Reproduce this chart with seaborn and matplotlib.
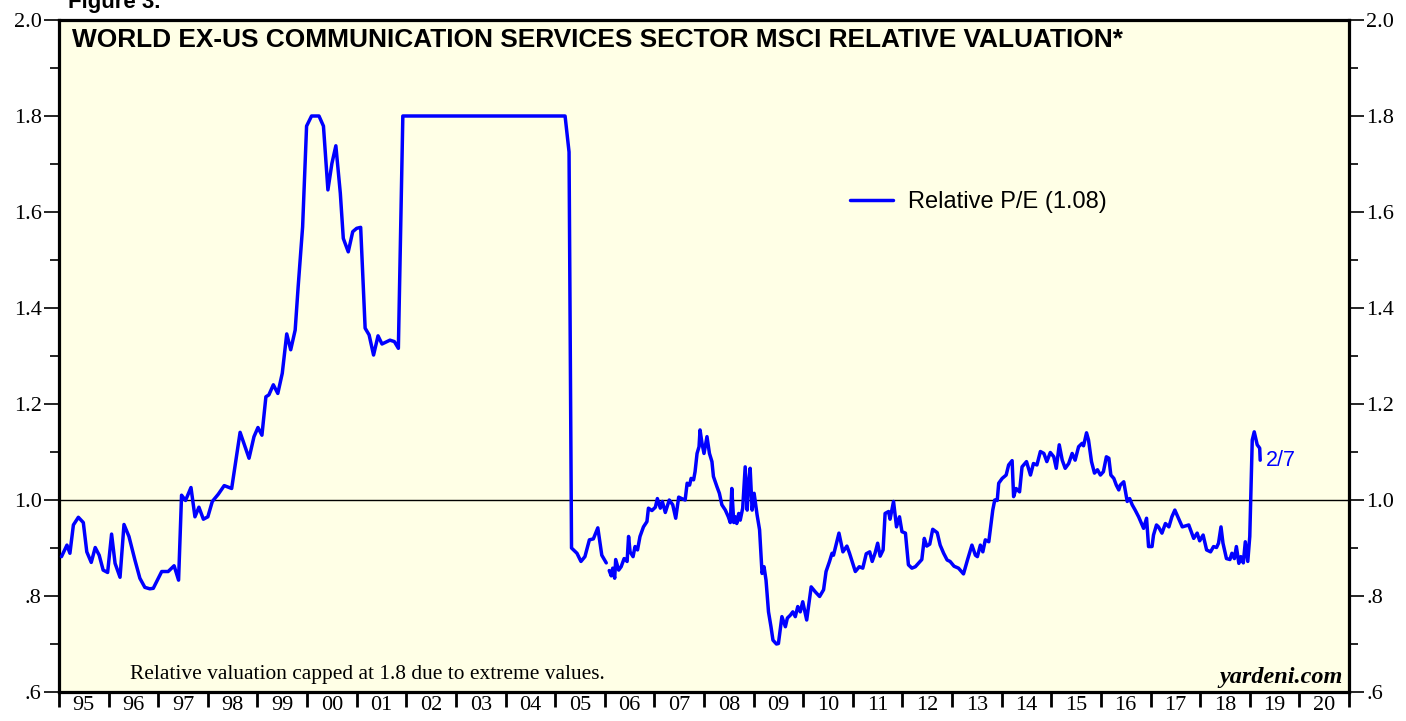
import numpy as np
import pandas as pd
import matplotlib
matplotlib.use("Agg")
import matplotlib.pyplot as plt
from matplotlib.lines import Line2D
from matplotlib.ticker import FixedLocator, FixedFormatter
import seaborn as sns

# ---------------- data ----------------
# segment 1: monthly series 1995 - early 2006 (values capped at 1.8)
dates_1 = [1995.05, 1995.16, 1995.22, 1995.29, 1995.39, 1995.49, 1995.56, 1995.65, 1995.73, 1995.81,
           1995.89, 1995.98, 1996.06, 1996.13, 1996.23, 1996.31, 1996.41, 1996.53, 1996.63, 1996.73,
           1996.83, 1996.90, 1997.07, 1997.20, 1997.32, 1997.41, 1997.47, 1997.55, 1997.66, 1997.74,
           1997.82, 1997.91, 1998.00, 1998.09, 1998.21, 1998.33, 1998.48, 1998.65, 1998.83, 1998.93,
           1999.01, 1999.09, 1999.17, 1999.23, 1999.32, 1999.41, 1999.50, 1999.59, 1999.67, 1999.76,
           1999.82, 1999.91, 1999.99, 2000.09, 2000.24, 2000.33, 2000.42, 2000.50, 2000.58, 2000.67,
           2000.73, 2000.83, 2000.92, 2001.00, 2001.08, 2001.17, 2001.25, 2001.34, 2001.43, 2001.51,
           2001.67, 2001.76, 2001.84, 2001.93, 2005.20, 2005.28, 2005.33, 2005.44, 2005.52, 2005.60,
           2005.69, 2005.77, 2005.86, 2005.94, 2006.03]
values_1 = [0.882, 0.906, 0.889, 0.948, 0.964, 0.953, 0.892, 0.870, 0.901, 0.885,
            0.854, 0.849, 0.929, 0.868, 0.839, 0.949, 0.924, 0.875, 0.837, 0.818,
            0.815, 0.816, 0.851, 0.851, 0.863, 0.833, 1.010, 0.999, 1.026, 0.965,
            0.985, 0.960, 0.965, 0.997, 1.012, 1.030, 1.024, 1.141, 1.087, 1.132,
            1.151, 1.135, 1.215, 1.219, 1.240, 1.222, 1.264, 1.346, 1.313, 1.354,
            1.444, 1.569, 1.779, 1.800, 1.800, 1.779, 1.646, 1.701, 1.738, 1.639,
            1.545, 1.517, 1.559, 1.566, 1.568, 1.358, 1.344, 1.302, 1.342, 1.325,
            1.333, 1.330, 1.316, 1.800, 1.800, 1.725, 0.900, 0.889, 0.872, 0.882,
            0.917, 0.919, 0.942, 0.885, 0.869]

# segment 2: weekly series 2006 - Feb 2019
dates_2 = [2006.09, 2006.13, 2006.16, 2006.20, 2006.22, 2006.28, 2006.33, 2006.39, 2006.45, 2006.48,
           2006.51, 2006.57, 2006.61, 2006.66, 2006.71, 2006.78, 2006.85, 2006.88, 2006.95, 2007.02,
           2007.06, 2007.12, 2007.16, 2007.22, 2007.30, 2007.37, 2007.43, 2007.49, 2007.55, 2007.62,
           2007.66, 2007.71, 2007.74, 2007.79, 2007.82, 2007.86, 2007.90, 2007.92, 2007.96, 2008.00,
           2008.06, 2008.11, 2008.16, 2008.19, 2008.26, 2008.31, 2008.36, 2008.43, 2008.49, 2008.53,
           2008.56, 2008.60, 2008.63, 2008.66, 2008.70, 2008.73, 2008.78, 2008.83, 2008.87, 2008.90,
           2008.93, 2008.97, 2009.01, 2009.07, 2009.12, 2009.17, 2009.21, 2009.25, 2009.30, 2009.35,
           2009.39, 2009.46, 2009.50, 2009.57, 2009.64, 2009.68, 2009.74, 2009.79, 2009.84, 2009.89,
           2009.94, 2009.99, 2010.07, 2010.16, 2010.24, 2010.33, 2010.41, 2010.46, 2010.53, 2010.58,
           2010.61, 2010.67, 2010.72, 2010.80, 2010.88, 2010.93, 2011.05, 2011.13, 2011.20, 2011.27,
           2011.34, 2011.39, 2011.45, 2011.50, 2011.55, 2011.61, 2011.65, 2011.72, 2011.75, 2011.82,
           2011.88, 2011.94, 2011.99, 2012.06, 2012.12, 2012.19, 2012.26, 2012.33, 2012.39, 2012.44,
           2012.49, 2012.55, 2012.61, 2012.70, 2012.76, 2012.83, 2012.90, 2012.96, 2013.04, 2013.13,
           2013.23, 2013.31, 2013.40, 2013.47, 2013.51, 2013.57, 2013.62, 2013.67, 2013.74, 2013.77,
           2013.82, 2013.86, 2013.91, 2013.94, 2014.01, 2014.09, 2014.14, 2014.21, 2014.24, 2014.29,
           2014.36, 2014.41, 2014.50, 2014.58, 2014.64, 2014.71, 2014.78, 2014.85, 2014.91, 2014.98,
           2015.05, 2015.10, 2015.16, 2015.22, 2015.28, 2015.35, 2015.42, 2015.48, 2015.55, 2015.62,
           2015.65, 2015.71, 2015.75, 2015.81, 2015.87, 2015.93, 2015.99, 2016.05, 2016.11, 2016.16,
           2016.20, 2016.26, 2016.31, 2016.36, 2016.39, 2016.46, 2016.53, 2016.58, 2016.63, 2016.69,
           2016.76, 2016.83, 2016.86, 2016.92, 2016.96, 2017.03, 2017.06, 2017.12, 2017.16, 2017.23,
           2017.30, 2017.37, 2017.43, 2017.49, 2017.55, 2017.64, 2017.77, 2017.87, 2017.94, 2017.99,
           2018.06, 2018.13, 2018.21, 2018.27, 2018.33, 2018.37, 2018.42, 2018.46, 2018.53, 2018.60,
           2018.64, 2018.69, 2018.73, 2018.78, 2018.82, 2018.87, 2018.91, 2018.96, 2019.00, 2019.03,
           2019.05, 2019.09, 2019.15, 2019.20, 2019.21]
values_2 = [0.853, 0.842, 0.858, 0.837, 0.876, 0.854, 0.861, 0.878, 0.872, 0.924,
            0.892, 0.882, 0.903, 0.896, 0.924, 0.944, 0.955, 0.983, 0.978, 0.985,
            1.003, 0.983, 0.997, 0.974, 1.000, 0.990, 0.962, 1.006, 1.003, 1.000,
            1.035, 1.031, 1.045, 1.042, 1.059, 1.097, 1.111, 1.146, 1.118, 1.097,
            1.132, 1.097, 1.080, 1.049, 1.028, 1.014, 0.990, 0.979, 0.965, 0.953,
            1.024, 0.953, 0.965, 0.951, 0.972, 0.958, 0.983, 1.069, 0.979, 1.035,
            1.066, 0.979, 1.014, 0.969, 0.938, 0.847, 0.861, 0.833, 0.767, 0.736,
            0.708, 0.700, 0.701, 0.757, 0.736, 0.754, 0.760, 0.767, 0.757, 0.778,
            0.767, 0.788, 0.750, 0.819, 0.809, 0.799, 0.813, 0.851, 0.872, 0.889,
            0.885, 0.910, 0.931, 0.892, 0.904, 0.890, 0.851, 0.861, 0.858, 0.888,
            0.892, 0.872, 0.890, 0.910, 0.883, 0.896, 0.972, 0.976, 0.960, 0.997,
            0.944, 0.965, 0.934, 0.931, 0.865, 0.858, 0.861, 0.869, 0.876, 0.920,
            0.904, 0.908, 0.939, 0.932, 0.906, 0.889, 0.875, 0.872, 0.862, 0.858,
            0.846, 0.875, 0.906, 0.885, 0.882, 0.906, 0.892, 0.917, 0.913, 0.938,
            0.979, 1.000, 0.999, 1.035, 1.045, 1.052, 1.073, 1.082, 1.007, 1.024,
            1.017, 1.069, 1.080, 1.052, 1.076, 1.073, 1.101, 1.097, 1.080, 1.099,
            1.090, 1.066, 1.115, 1.083, 1.066, 1.076, 1.097, 1.083, 1.111, 1.118,
            1.113, 1.140, 1.125, 1.080, 1.056, 1.063, 1.052, 1.059, 1.090, 1.087,
            1.052, 1.045, 1.031, 1.021, 1.031, 1.038, 0.997, 1.003, 0.990, 0.979,
            0.965, 0.948, 0.941, 0.962, 0.903, 0.903, 0.927, 0.948, 0.944, 0.931,
            0.951, 0.944, 0.965, 0.979, 0.965, 0.944, 0.948, 0.920, 0.931, 0.915,
            0.927, 0.896, 0.892, 0.903, 0.901, 0.910, 0.944, 0.910, 0.878, 0.876,
            0.889, 0.878, 0.903, 0.868, 0.882, 0.869, 0.913, 0.872, 0.924, 1.049,
            1.125, 1.142, 1.115, 1.108, 1.083]

year_ticks = list(range(1995, 2022))
year_labels = ["95", "96", "97", "98", "99", "00", "01", "02", "03", "04", "05", "06", "07",
               "08", "09", "10", "11", "12", "13", "14", "15", "16", "17", "18", "19", "20"]
y_major = [0.6, 0.8, 1.0, 1.2, 1.4, 1.6, 1.8, 2.0]
y_labels = [".6", ".8", "1.0", "1.2", "1.4", "1.6", "1.8", "2.0"]
y_minor = [0.7, 0.9, 1.1, 1.3, 1.5, 1.7, 1.9]

title_text = "WORLD EX-US COMMUNICATION SERVICES SECTOR MSCI RELATIVE VALUATION*"
legend_text = "Relative P/E (1.08)"
last_label = "2/7"
note_text = "Relative valuation capped at 1.8 due to extreme values."
source_text = "yardeni.com"

# ---------------- build frame ----------------
df = pd.concat([
    pd.DataFrame({"date": dates_1, "value": values_1, "segment": 1}),
    pd.DataFrame({"date": dates_2, "value": values_2, "segment": 2}),
], ignore_index=True)

sns.set_style("ticks")
plt.rcParams["font.family"] = ["Liberation Serif", "DejaVu Serif"]
plt.rcParams["text.color"] = "black"
plt.rcParams["axes.labelcolor"] = "black"
plt.rcParams["xtick.color"] = "black"
plt.rcParams["ytick.color"] = "black"

W, H = 1406, 721
fig = plt.figure(figsize=(W / 100, H / 100), dpi=100)
fig.patch.set_facecolor("white")
ax = fig.add_axes([59 / W, 1 - 692 / H, (1349 - 59) / W, (692 - 20) / H])
ax.set_facecolor("#FFFFE6")

sns.lineplot(data=df, x="date", y="value", units="segment", estimator=None,
             color="#0000FF", linewidth=2.5, ax=ax, legend=False, zorder=3)

ax.axhline(1.0, color="black", linewidth=1.0, zorder=2)

ax.set_xlim(1995, 2021)
ax.set_ylim(0.6, 2.0)
ax.set_xlabel("")
ax.set_ylabel("")

for s in ax.spines.values():
    s.set_linewidth(2.3)
    s.set_color("black")
    s.set_visible(True)

# y axis (both sides)
ax.yaxis.set_major_locator(FixedLocator(y_major))
ax.yaxis.set_major_formatter(FixedFormatter(y_labels))
ax.yaxis.set_minor_locator(FixedLocator(y_minor))
ax.tick_params(axis="y", which="major", direction="out", length=11, width=1.2,
               left=True, right=True, labelleft=True, labelright=True,
               labelsize=16, pad=1.5, colors="black")
ax.tick_params(axis="y", which="minor", direction="out", length=6.5, width=1.2,
               left=True, right=True, colors="black")

# x axis: year boundary ticks, labels centred in year
ax.xaxis.set_major_locator(FixedLocator(year_ticks))
ax.xaxis.set_major_formatter(FixedFormatter([""] * len(year_ticks)))
ax.xaxis.set_minor_locator(FixedLocator([y + 0.5 for y in year_ticks[:-1]]))
ax.xaxis.set_minor_formatter(FixedFormatter(year_labels))
ax.tick_params(axis="x", which="major", direction="out", length=11, width=2.0,
               bottom=True, colors="black")
ax.tick_params(axis="x", which="minor", length=0, labelsize=16, pad=3, colors="black")

# title inside the plot
ax.text((72 - 59) / 1290, 1 - (40 - 20) / 672, title_text, transform=ax.transAxes,
        fontsize=18.9, fontweight="bold", family="Liberation Sans", color="black",
        ha="left", va="center")

# "Figure 3." cut at top, as in the reference
fig.text(68 / W, 1 - 8 / H, "Figure 3.", fontsize=16, fontweight="bold",
         family="Liberation Sans", color="black", ha="left", va="baseline")

# legend
handle = Line2D([], [], color="#0000FF", linewidth=2.5)
leg = ax.legend([handle], [legend_text], loc="center left",
                bbox_to_anchor=((850 - 59) / 1290, (692 - 202) / 672),
                frameon=False, borderpad=0, borderaxespad=0, handlelength=1.82,
                handletextpad=0.62, prop={"family": "Liberation Sans", "size": 17})
for t in leg.get_texts():
    t.set_color("black")

# last-value label
ax.annotate(last_label, xy=(dates_2[-1], values_2[-1]), xytext=(4, 0),
            textcoords="offset points", color="#0000FF", fontsize=15.5,
            family="Liberation Sans", ha="left", va="center")

# footnote and source
ax.text((130 - 59) / 1290, (692 - 675) / 672, note_text, transform=ax.transAxes,
        fontsize=15.4, ha="left", va="center", family="Liberation Serif", color="black")
ax.text((1343 - 59) / 1290, (692 - 677) / 672, source_text, transform=ax.transAxes,
        fontsize=17.5, ha="right", va="center", family="Liberation Serif",
        fontweight="bold", fontstyle="italic", color="black")

fig.savefig("out.png", dpi=100)
